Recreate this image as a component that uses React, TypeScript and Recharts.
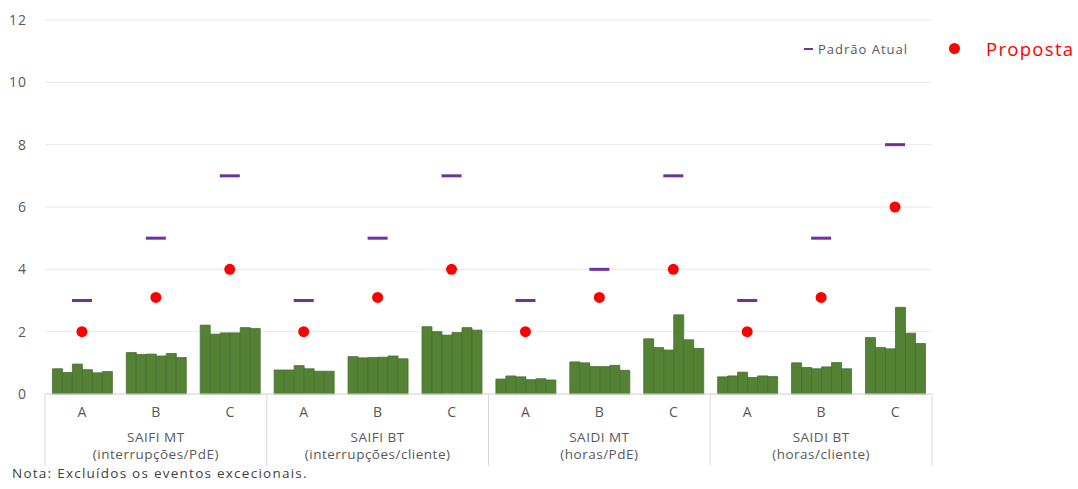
import { ComposedChart, Bar, Scatter, XAxis, YAxis, CartesianGrid } from 'recharts';

// categorias
const subcats = ['A', 'B', 'C'];
const groupNames = ['SAIFI MT', 'SAIFI BT', 'SAIDI MT', 'SAIDI BT'];
const groupUnits = ['(interrupções/PdE)', '(interrupções/cliente)', '(horas/PdE)', '(horas/cliente)'];
const yTicks = [0, 2, 4, 6, 8, 10, 12];

// histórico (6 anos por classe A/B/C)
const saifiMT = [
    [0.81, 0.69, 0.96, 0.78, 0.68, 0.72],
    [1.33, 1.27, 1.28, 1.22, 1.30, 1.17],
    [2.21, 1.92, 1.96, 1.96, 2.13, 2.10],
];
const saifiBT = [
    [0.77, 0.77, 0.91, 0.81, 0.73, 0.73],
    [1.20, 1.16, 1.17, 1.18, 1.22, 1.13],
    [2.16, 2.00, 1.89, 1.97, 2.13, 2.05],
];
const saidiMT = [
    [0.48, 0.58, 0.55, 0.46, 0.49, 0.45],
    [1.03, 1.00, 0.88, 0.88, 0.92, 0.76],
    [1.77, 1.49, 1.41, 2.54, 1.74, 1.46],
];
const saidiBT = [
    [0.55, 0.58, 0.70, 0.53, 0.58, 0.56],
    [1.00, 0.85, 0.81, 0.87, 1.01, 0.81],
    [1.81, 1.49, 1.45, 2.78, 1.95, 1.62],
];

const padraoAtual = [3, 5, 7, 3, 5, 7, 3, 4, 7, 3, 5, 8];
const proposta = [2, 3.1, 4, 2, 3.1, 4, 2, 3.1, 4, 2, 3.1, 6];

const historico = [saifiMT, saifiBT, saidiMT, saidiBT];
const yearKeys = ['y1', 'y2', 'y3', 'y4', 'y5', 'y6'];

const data = historico.flatMap((grp, g) =>
    grp.map((vals, s) => {
        const i = g * 3 + s;
        const row: Record<string, string | number> = {
            sub: subcats[s],
            padrao: padraoAtual[i],
            proposta: proposta[i],
        };
        vals.forEach((v, k) => { row[yearKeys[k]] = v; });
        return row;
    })
);

const FONT = '"Open Sans", sans-serif';
const GREEN = '#548235';
const PURPLE = '#7030A0';
const RED = '#FF0000';
const GREY = '#595959';

// eslint-disable-next-line @typescript-eslint/no-explicit-any
function CategoryTick(props: any) {
    const { x, y, payload } = props;
    const idx = payload.index ?? props.index;
    const half = payload.offset || 37;
    const g = Math.floor(idx / 3);
    return (
        <g>
            <text x={x} y={y + 23} textAnchor="middle" fontSize={14} fill={GREY} fontFamily={FONT}>
                {payload.value}
            </text>
            {idx % 3 === 0 && (
                <line x1={x - half} x2={x - half} y1={y} y2={y + 72} stroke="#d9d9d9" />
            )}
            {idx === data.length - 1 && (
                <line x1={x + half} x2={x + half} y1={y} y2={y + 72} stroke="#d9d9d9" />
            )}
            {idx % 3 === 1 && (
                <text textAnchor="middle" fontSize={13.5} fill={GREY} fontFamily={FONT} letterSpacing={0.5}>
                    <tspan x={x} y={y + 48}>{groupNames[g]}</tspan>
                    <tspan x={x} y={y + 65}>{groupUnits[g]}</tspan>
                </text>
            )}
        </g>
    );
}

// eslint-disable-next-line @typescript-eslint/no-explicit-any
const Dash = (p: any) => (
    <rect x={p.cx - 10} y={p.cy - 1.5} width={20} height={3} fill={PURPLE} />
);
// eslint-disable-next-line @typescript-eslint/no-explicit-any
const Dot = (p: any) => <circle cx={p.cx} cy={p.cy} r={5.5} fill={RED} />;

export default function App() {
    return (
        <div style={{ position: 'fixed', left: 0, top: 0, width: 1078, height: 489, background: '#fff', fontFamily: FONT }}>
            <ComposedChart
                width={1078}
                height={489}
                data={data}
                margin={{ top: 20, right: 146, bottom: 0, left: 0 }}
                barGap={0}
                barCategoryGap="10%"
            >
                <CartesianGrid vertical={false} stroke="#e8e8e8" />
                <XAxis
                    dataKey="sub"
                    height={95}
                    tickLine={false}
                    tickSize={0}
                    tickMargin={0}
                    axisLine={{ stroke: '#d9d9d9' }}
                    interval={0}
                    tick={<CategoryTick />}
                />
                <YAxis
                    domain={[0, 12]}
                    ticks={yTicks}
                    width={45}
                    axisLine={false}
                    tickLine={false}
                    tickMargin={12}
                    tick={{ fontSize: 14, fill: GREY, fontFamily: FONT, letterSpacing: 1 }}
                />
                {yearKeys.map((k) => (
                    <Bar key={k} dataKey={k} fill={GREEN} stroke="#4a6e33" strokeWidth={0.8} isAnimationActive={false} />
                ))}
                <Scatter dataKey="padrao" shape={<Dash />} isAnimationActive={false} />
                <Scatter dataKey="proposta" shape={<Dot />} isAnimationActive={false} />
            </ComposedChart>

            {/* legenda */}
            <div style={{ position: 'absolute', left: 804, top: 40, display: 'flex', alignItems: 'center', fontSize: 13, color: GREY, letterSpacing: 1 }}>
                <span style={{ display: 'inline-block', width: 9, height: 2.5, background: PURPLE, marginRight: 5 }} />
                Padrão Atual
            </div>
            <div style={{ position: 'absolute', left: 949, top: 36, display: 'flex', alignItems: 'center', fontSize: 18.5, color: RED, letterSpacing: 1.3 }}>
                <span style={{ display: 'inline-block', width: 11, height: 11, borderRadius: '50%', background: RED, marginRight: 26 }} />
                Proposta
            </div>

            <div style={{ position: 'absolute', left: 12, top: 464, fontSize: 13.5, color: '#404040', letterSpacing: 1.25 }}>
                Nota: Excluídos os eventos excecionais.
            </div>
        </div>
    );
}
